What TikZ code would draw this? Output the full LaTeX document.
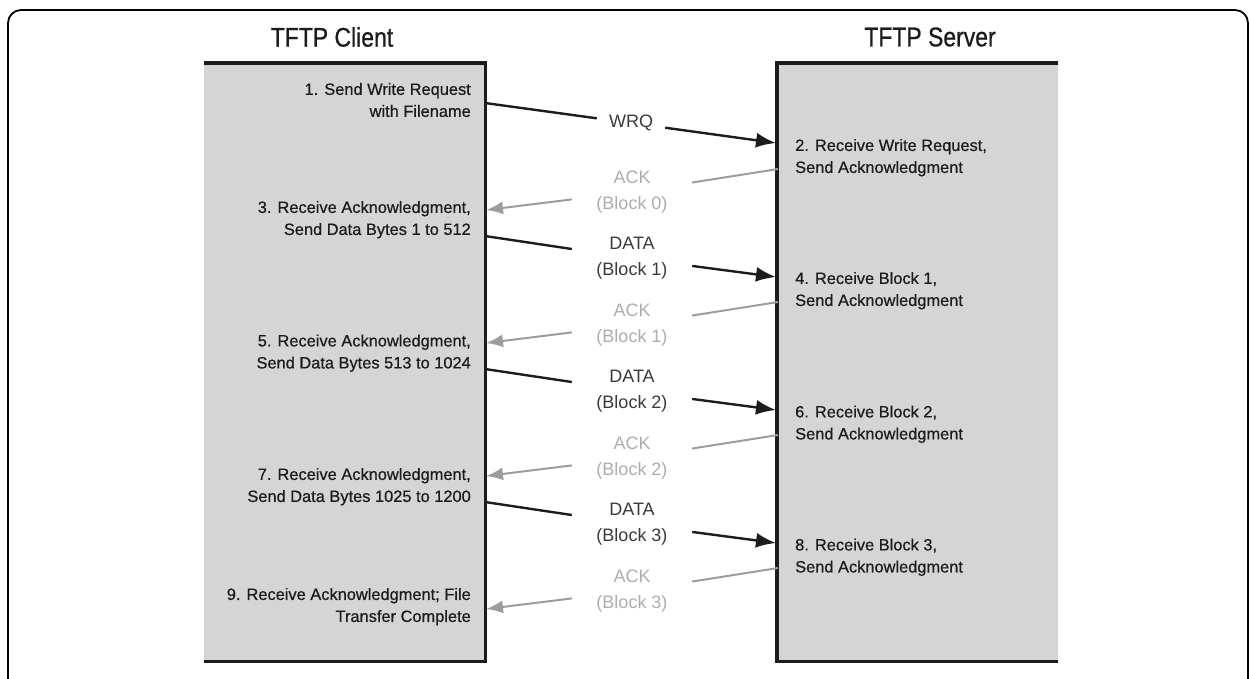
\documentclass[tikz,border=0pt]{standalone}
\usepackage{fontspec}
\setmainfont{Liberation Sans}
\newfontface\medface{Liberation Sans}[FakeBold=0.6]
\newfontface\headface{Liberation Sans}[FakeBold=0.8]
\usetikzlibrary{arrows.meta}
\definecolor{boxgray}{HTML}{D5D5D5}
\definecolor{ackline}{HTML}{9C9C9C}
\definecolor{acktext}{HTML}{ADADAD}
\definecolor{datatext}{HTML}{3A3A3A}
\definecolor{ink}{HTML}{1C1C1C}
\begin{document}
\begin{tikzpicture}[x=1pt,y=-1pt,
  steptext/.style={font=\medface\fontsize{16.4}{22}\selectfont, text=ink, inner sep=0pt},
  clienttext/.style={steptext, anchor=east, align=right},
  servertext/.style={steptext, anchor=west, align=left},
  msglabel/.style={font=\fontsize{18}{26}\selectfont, align=center, inner sep=0pt, minimum width=120pt, minimum height=52pt},
  acklabel/.style={msglabel, text=acktext},
  datalabel/.style={msglabel, text=datatext},
  blackarrow/.style={draw=ink, line width=2.4pt, -{Latex[length=20pt,width=15pt]}},
  blackline/.style={draw=ink, line width=2.4pt},
  grayarrow/.style={draw=ackline, line width=2pt, -{Latex[length=17pt,width=13pt]}},
  grayline/.style={draw=ackline, line width=2pt},
  headtext/.style={font=\headface\fontsize{27}{30}\selectfont, text=ink, inner sep=0pt},
  boxedge/.style={draw=ink, line width=3.5pt},
  lane/.style={fill=boxgray, draw=none, inner sep=0pt, minimum width=281pt, minimum height=598pt, anchor=north west}]

\useasboundingbox (0,0) rectangle (1250,678);

% outer frame
\begin{scope}
  \clip (0,0) rectangle (1250,678);
  \draw[line width=1.8pt, rounded corners=13pt] (8,720) -- (8,10) -- (1248,10) -- (1248,720);
\end{scope}

% lanes
\node[lane] (client) at (204,63) {};
\node[lane] (server) at (777,63) {};
\draw[boxedge] (client.north west) -- (client.north east) -- (client.south east) -- (client.south west);
\draw[boxedge] (server.north east) -- (server.north west) -- (server.south west) -- (server.south east);

% titles
\node[headtext] (ctitle) at (332,37) {\scalebox{0.85}[1]{TFTP Client}};
\node[headtext] (stitle) at (930,37) {\scalebox{0.85}[1]{TFTP Server}};

% client steps
\node[clienttext] (s1) at (471,100) {1. Send Write Request\\with Filename};
\node[clienttext] (s3) at (471,219.7) {3. Receive Acknowledgment,\\Send Data Bytes 1 to 512};
\node[clienttext] (s5) at (471,353.2) {5. Receive Acknowledgment,\\Send Data Bytes 513 to 1024};
\node[clienttext] (s7) at (471,486.7) {7. Receive Acknowledgment,\\Send Data Bytes 1025 to 1200};
\node[clienttext] (s9) at (471,606.7) {9. Receive Acknowledgment; File\\Transfer Complete};

% server steps
\node[servertext] (s2) at (795,157.7) {2. Receive Write Request,\\Send Acknowledgment};
\node[servertext] (s4) at (795,290.7) {4. Receive Block 1,\\Send Acknowledgment};
\node[servertext] (s6) at (795,424.2) {6. Receive Block 2,\\Send Acknowledgment};
\node[servertext] (s8) at (795,557.2) {8. Receive Block 3,\\Send Acknowledgment};

% WRQ
\coordinate (w0) at (485,103);
\coordinate (w1) at (776,143);
\node[datalabel, minimum width=68pt, minimum height=30pt] (wrq) at (631,123) {WRQ};
\draw[blackline] (w0) -- (wrq);
\draw[blackarrow] (wrq) -- (w1);

% ACK messages
\foreach \k in {0,1,2,3} {
  \coordinate (aS\k) at (778,{169+133*\k});
  \coordinate (aC\k) at (486,{210+133*\k});
  \node[acklabel] (ack\k) at (632,{192+133*\k}) {ACK\\(Block \k)};
  \draw[grayline] (aS\k) -- (ack\k);
  \draw[grayarrow] (ack\k) -- (aC\k);
}

% DATA messages
\foreach \k in {1,2,3} {
  \coordinate (dC\k) at (485,{236+133*(\k-1)});
  \coordinate (dS\k) at (776,{277+133*(\k-1)});
  \node[datalabel] (data\k) at (632,{258+133*(\k-1)}) {DATA\\(Block \k)};
  \draw[blackline] (dC\k) -- (data\k);
  \draw[blackarrow] (data\k) -- (dS\k);
}
\end{tikzpicture}
\end{document}
